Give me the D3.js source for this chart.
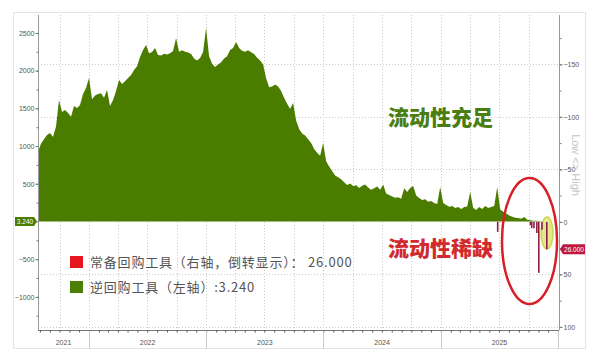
<!DOCTYPE html>
<meta charset="utf-8" />
<script src="https://d3js.org/d3.v7.min.js"></script>
<style>
  html, body { margin: 0; padding: 0; background: #fff; overflow: hidden; }
  text { font-family: "Liberation Sans", "DejaVu Sans", sans-serif; }
  .cjk { font-family: "Noto Sans CJK SC", sans-serif; }
</style>
<div id="chart"></div>
<script>
  // reverse repo (left axis), one reading every ~9.35 days from 2021-07-26
  var rrStart = new Date(2021, 6, 26);
  var rrStepDays = 9.35;
  var rrValues = [
    920, 1030, 1090, 1147, 1173, 1120, 1260, 1610, 1452, 1478,
    1440, 1390, 1530, 1505, 1545, 1690, 1770, 1903, 1620, 1670,
    1690, 1700, 1640, 1744, 1530, 1611, 1730, 1876, 1823, 1860,
    1903, 1942, 2009, 2060, 2181, 2274, 2340, 2230, 2247, 2300,
    2208, 2200, 2225, 2215, 2230, 2260, 2433, 2250, 2270, 2250,
    2240, 2220, 2160, 2135, 2168, 2247, 2566, 2190, 2090, 2049,
    2080, 2110, 2160, 2190, 2274, 2300, 2380, 2300, 2265, 2250,
    2270, 2245, 2220, 2170, 2135, 2080, 1900, 1780, 1790, 1815,
    1790, 1730, 1640, 1560, 1495, 1571, 1340, 1225, 1165, 1140,
    1090, 1040, 960, 910, 870, 1041, 800, 730, 670, 610,
    585, 560, 520, 484, 505, 470, 480, 444, 475, 490,
    450, 420, 440, 465, 420, 490, 370, 350, 330, 315,
    320, 300, 440, 390, 445, 470, 345, 310, 285, 295,
    260, 270, 245, 232, 457, 245, 220, 195, 206, 180,
    192, 166, 192, 200, 391, 179, 152, 192, 166, 206,
    179, 192, 206, 457, 160, 130, 105, 80, 62, 48,
    46, 35, 60, 22, 15, 10, 8, 5, 4, 3.24
  ];

  // standing repo facility (right axis, inverted)
  var srfDates = ["2025-06-27", "2025-10-07", "2025-10-11", "2025-10-18", "2025-10-27", "2025-11-02", "2025-11-12", "2025-11-27"];
  var srfValues = [9.5, 3, 6, 6, 10.5, 48.5, 7.5, 26];

  var leftTicks = [-1000, -500, 500, 1000, 1500, 2000, 2500];
  var rightTicks = [-150, -100, -50, 0, 50, 100];
  var years = ["2021", "2022", "2023", "2024", "2025"];

  var legendItems = [
    { label: "常备回购工具（右轴，倒转显示）： 26.000", color: "#e5161d" },
    { label: "逆回购工具（左轴）:3.240", color: "#4b7f06" }
  ];

  var width = 600, height = 360;
  var green = "#4a7c00";

  var svg = d3.select("#chart").append("svg")
    .attr("width", width).attr("height", height);

  // card
  svg.append("rect")
    .attr("x", 13.5).attr("y", 12.5).attr("width", 572).attr("height", 336)
    .attr("fill", "#fff").attr("stroke", "#e4e4e4");

  var x = d3.scaleTime()
    .domain([new Date(2021, 6, 26), new Date(2026, 0, 4)])
    .range([38, 559]);
  var yL = d3.scaleLinear().domain([-1426, 2738]).range([329, 15]);
  var yR = d3.scaleLinear().domain([-197, 102]).range([15, 329]);

  var rr = rrValues.map(function(v, i) {
    return { date: new Date(rrStart.getTime() + i * rrStepDays * 864e5), value: v };
  });
  var srf = srfDates.map(function(d, i) {
    return { date: new Date(d), value: srfValues[i] };
  });

  // grid
  var grid = svg.append("g")
    .attr("stroke", "#c8c8c8").attr("stroke-dasharray", "1,2").attr("stroke-width", 1);
  grid.selectAll("line.h")
    .data(rightTicks.filter(function(d) { return d !== 0; }))
    .enter().append("line")
    .attr("x1", 38).attr("x2", 559)
    .attr("y1", function(d) { return Math.round(yR(d)) + 0.5; })
    .attr("y2", function(d) { return Math.round(yR(d)) + 0.5; });
  grid.selectAll("line.v")
    .data(d3.timeMonth.every(3).range(new Date(2021, 9, 1), new Date(2026, 0, 1)))
    .enter().append("line")
    .attr("y1", 15).attr("y2", 329)
    .attr("x1", function(d) { return Math.round(x(d)) + 0.5; })
    .attr("x2", function(d) { return Math.round(x(d)) + 0.5; });

  // reverse repo area
  var area = d3.area()
    .x(function(d) { return x(d.date); })
    .y0(yL(0))
    .y1(function(d) { return yL(d.value); });
  svg.append("path").datum(rr)
    .attr("d", area)
    .attr("fill", green);

  // yellow highlight
  svg.append("ellipse")
    .attr("cx", 547).attr("cy", 233).attr("rx", 6).attr("ry", 16)
    .attr("fill", "#e4e88c").attr("stroke", "#cfd64a").attr("stroke-width", 1.5);

  // standing repo bars
  svg.append("g").selectAll("line")
    .data(srf).enter().append("line")
    .attr("x1", function(d) { return x(d.date); })
    .attr("x2", function(d) { return x(d.date); })
    .attr("y1", yR(0))
    .attr("y2", function(d) { return yR(d.value); })
    .attr("stroke", "#8e1d45").attr("stroke-width", 1.6);

  // red circle
  svg.append("ellipse")
    .attr("cx", 529.5).attr("cy", 241).attr("rx", 27.5).attr("ry", 63)
    .attr("fill", "none").attr("stroke", "#d61f26").attr("stroke-width", 2.5);

  // left axis
  var axL = svg.append("g").attr("transform", "translate(38.5,0)");
  axL.call(d3.axisLeft(yL).tickValues(leftTicks).tickSize(3).tickFormat(d3.format("d")));
  axL.append("g").call(d3.axisLeft(yL).tickValues(d3.range(-1250, 2750, 250)).tickSize(2).tickFormat(""));
  axL.selectAll(".domain").attr("stroke", "#999").attr("d", "M0,15V330");
  axL.selectAll(".tick line").attr("stroke", "#777");
  axL.selectAll(".tick text").attr("font-size", 7).attr("fill", "#555")
    .attr("font-family", "Liberation Sans, sans-serif").attr("x", -4);

  // right axis
  var axR = svg.append("g").attr("transform", "translate(559.5,0)");
  axR.call(d3.axisRight(yR).tickValues(rightTicks).tickSize(3).tickFormat(d3.format("d")));
  axR.append("g").call(d3.axisRight(yR).tickValues(d3.range(-175, 101, 25)).tickSize(2).tickFormat(""));
  axR.selectAll(".domain").attr("stroke", "#999").attr("d", "M0,15V330");
  axR.selectAll(".tick line").attr("stroke", "#777");
  axR.selectAll(".tick text").attr("font-size", 7).attr("fill", "#555")
    .attr("font-family", "Liberation Sans, sans-serif").attr("x", 4);

  // bottom axis
  var axB = svg.append("g").attr("transform", "translate(0,330.5)");
  axB.call(d3.axisBottom(x).ticks(d3.timeMonth.every(1)).tickSize(2).tickFormat(""));
  axB.selectAll(".domain").attr("stroke", "#777").attr("d", "M38,0H559");
  axB.selectAll(".tick line").attr("stroke", "#555");
  var yearStarts = years.map(function(y) { return new Date(+y, 0, 1); }).concat([new Date(2026, 0, 1)]);
  svg.append("g").selectAll("line")
    .data(yearStarts.slice(1)).enter().append("line")
    .attr("x1", function(d) { return Math.round(x(d)) + 0.5; })
    .attr("x2", function(d) { return Math.round(x(d)) + 0.5; })
    .attr("y1", 331).attr("y2", 349)
    .attr("stroke", "#ccc");
  svg.append("g").selectAll("text")
    .data(years).enter().append("text")
    .attr("x", function(d, i) {
      var a = Math.max(x(yearStarts[i]), 38);
      return (a + x(yearStarts[i + 1])) / 2;
    })
    .attr("y", 345)
    .attr("text-anchor", "middle")
    .attr("font-size", 7).attr("fill", "#555")
    .text(function(d) { return d; });

  // last value labels
  var lbl = svg.append("g");
  lbl.append("path")
    .attr("d", "M15," + (yL(0) - 4.5) + "h19l3,4.5l-3,4.5h-19z")
    .attr("fill", green);
  lbl.append("text").attr("x", 25).attr("y", yL(0) + 2.5)
    .attr("text-anchor", "middle").attr("font-size", 6.5).attr("fill", "#fff").text("3.240");
  var yv = yR(26);
  lbl.append("path")
    .attr("d", "M560," + yv + "l3,-5h22v10h-22z")
    .attr("fill", "#c0173f");
  lbl.append("text").attr("x", 574).attr("y", yv + 2.5)
    .attr("text-anchor", "middle").attr("font-size", 6.5).attr("fill", "#fff").text("26.000");

  // Low <> High
  svg.append("text")
    .attr("transform", "translate(572,165) rotate(90)")
    .attr("text-anchor", "middle")
    .attr("font-size", 11).attr("fill", "#c4c4c4")
    .text("Low <> High");

  // annotations
  svg.append("text").attr("class", "cjk")
    .attr("x", 388).attr("y", 125)
    .attr("font-size", 21).attr("font-weight", 900).attr("fill", "#4a7d12")
    .text("流动性充足");
  svg.append("text").attr("class", "cjk")
    .attr("x", 388).attr("y", 256)
    .attr("font-size", 21).attr("font-weight", 900).attr("fill", "#d12a2f")
    .text("流动性稀缺");

  // legend
  var leg = svg.append("g").selectAll("g")
    .data(legendItems).enter().append("g")
    .attr("transform", function(d, i) { return "translate(70," + (256 + i * 25) + ")"; });
  leg.append("rect").attr("width", 13).attr("height", 12)
    .attr("fill", function(d) { return d.color; });
  leg.append("text").attr("class", "cjk")
    .attr("x", 20).attr("y", 11)
    .attr("font-size", 13).attr("letter-spacing", 0.8).attr("fill", "#555")
    .text(function(d) { return d.label; });
</script>
